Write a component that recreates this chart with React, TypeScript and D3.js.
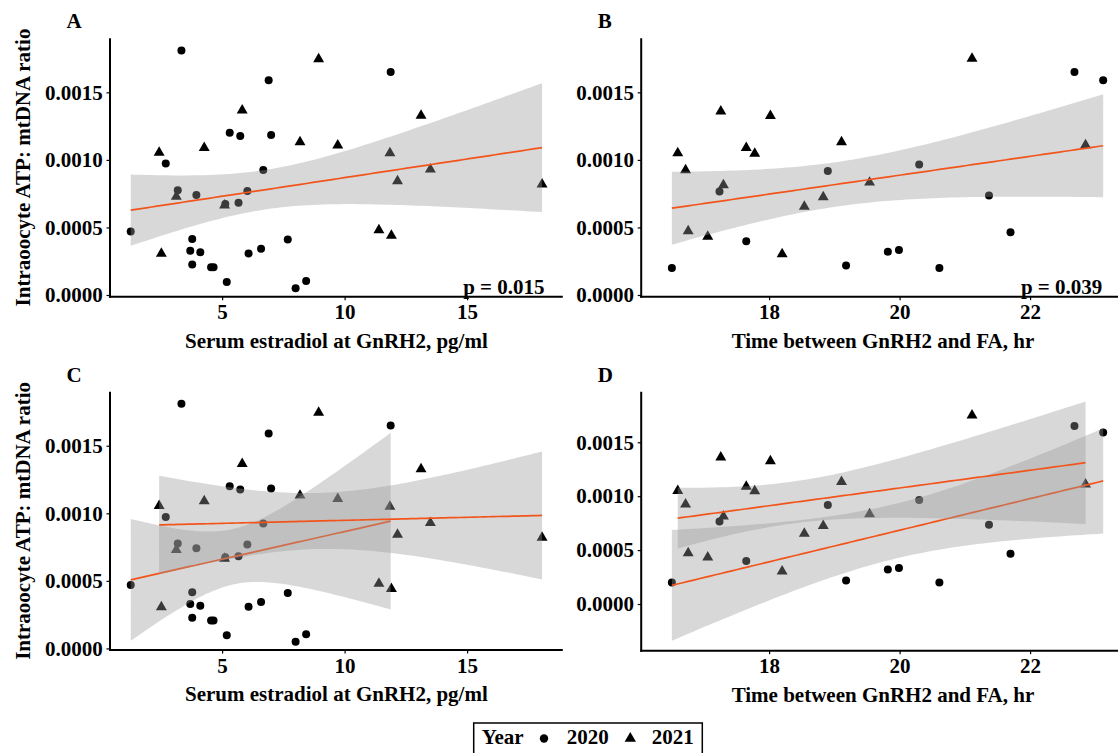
import React, { useEffect, useRef } from "react";
import * as d3 from "d3";

// A & C: serum estradiol at GnRH2 (pg/ml) vs intraoocyte ATP:mtDNA ratio
const estradiol2020 = [1.27, 3.34, 2.7, 3.19, 3.95, 3.78, 3.7, 4.11, 3.78, 4.55, 4.65, 5.19, 5.31, 5.74, 5.13, 5.67, 6.03, 6.08, 6.9, 7.0, 6.68, 6.59, 7.68, 8.0, 8.43, 11.88];
const ratioE2020 = [0.00047, 0.00181, 0.000973, 0.000776, 0.000741, 0.000415, 0.000328, 0.000316, 0.000226, 0.000206, 0.000206, 0.000097, 0.0012, 0.001177, 0.000674, 0.000682, 0.000769, 0.000308, 0.00159, 0.001184, 0.000925, 0.000343, 0.00041, 0.00005, 0.000104, 0.00165];
const estradiol2021 = [2.43, 2.52, 3.13, 4.27, 5.1, 5.82, 8.94, 8.18, 9.72, 11.85, 12.16, 13.12, 13.5, 11.4, 11.91, 18.06];
const ratioE2021 = [0.001055, 0.000306, 0.000729, 0.00109, 0.000664, 0.001366, 0.001746, 0.001132, 0.001107, 0.00105, 0.000843, 0.001328, 0.00093, 0.00048, 0.00044, 0.00082];

// B & D: time between GnRH2 and FA (hr)
const time2020 = [16.51, 17.24, 17.65, 18.9, 19.18, 19.82, 19.99, 20.3, 20.61, 21.37, 21.7, 22.68, 23.12];
const ratioT2020 = [0.000199, 0.000766, 0.000398, 0.000918, 0.000219, 0.000321, 0.000333, 0.000965, 0.000199, 0.000736, 0.000465, 0.00165, 0.00159];
const time2021 = [16.6, 16.72, 16.76, 17.06, 17.26, 17.3, 17.65, 17.78, 18.02, 18.2, 18.54, 18.83, 19.11, 19.54, 21.11, 22.85];
const ratioT2021 = [0.00105, 0.000925, 0.000473, 0.000433, 0.00136, 0.000813, 0.00109, 0.001047, 0.001326, 0.000303, 0.000654, 0.000724, 0.001132, 0.000833, 0.001749, 0.001109];

const ratioTicks = [0, 0.0005, 0.001, 0.0015];
const estradiolTicks = [5, 10, 15];
const timeTicks = [18, 20, 22];
const years = ["2020", "2021"];
const pValues = ["p = 0.015", "p = 0.039"];

const FONT = "'Liberation Serif', 'Times New Roman', serif";
const LINE = "#f2551c";

// t quantile (0.975) by Cornish-Fisher expansion
function tQuant(df) {
  const z = 1.959964;
  const g1 = (z ** 3 + z) / 4;
  const g2 = (5 * z ** 5 + 16 * z ** 3 + 3 * z) / 96;
  const g3 = (3 * z ** 7 + 19 * z ** 5 + 17 * z ** 3 - 15 * z) / 384;
  const g4 = (79 * z ** 9 + 776 * z ** 7 + 1482 * z ** 5 - 1920 * z ** 3 - 945 * z) / 92160;
  return z + g1 / df + g2 / df ** 2 + g3 / df ** 3 + g4 / df ** 4;
}

// lm fit + 95% CI, like geom_smooth(method = "lm")
function lmBand(xs, ys) {
  const n = xs.length;
  const mx = d3.mean(xs), my = d3.mean(ys);
  let sxx = 0, sxy = 0;
  xs.forEach((x, i) => { sxx += (x - mx) ** 2; sxy += (x - mx) * (ys[i] - my); });
  const b = sxy / sxx, a = my - b * mx;
  let sse = 0;
  xs.forEach((x, i) => { sse += (ys[i] - a - b * x) ** 2; });
  const s = Math.sqrt(sse / (n - 2));
  const t = tQuant(n - 2);
  const [x0, x1] = d3.extent(xs);
  return d3.range(80).map((i) => {
    const x = x0 + ((x1 - x0) * i) / 79;
    const fit = a + b * x;
    const se = s * Math.sqrt(1 / n + (x - mx) ** 2 / sxx);
    return { x, fit, lo: fit - t * se, hi: fit + t * se };
  });
}

const panels = [
  { id: "A", x20: estradiol2020, y20: ratioE2020, x21: estradiol2021, y21: ratioE2021, grouped: false,
    left: 110, right: 562.8, top: 38.3, bottom: 296.7, xDomain: [0.424, 18.906], yDomain: [-0.0000126, 0.0019],
    xTicks: estradiolTicks, xTitle: "Serum estradiol at GnRH2, pg/ml", p: pValues[0], pEnd: 544.6, yTitle: true },
  { id: "B", x20: time2020, y20: ratioT2020, x21: time2021, y21: ratioT2021, grouped: false,
    left: 641.2, right: 1124.7, top: 38.3, bottom: 296.7, xDomain: [16.04, 23.45], yDomain: [-0.0000126, 0.0019],
    xTicks: timeTicks, xTitle: "Time between GnRH2 and FA, hr", p: pValues[1], pEnd: 1102.3, yTitle: false },
  { id: "C", x20: estradiol2020, y20: ratioE2020, x21: estradiol2021, y21: ratioE2021, grouped: true,
    left: 110, right: 562.8, top: 391.7, bottom: 650.1, xDomain: [0.424, 18.906], yDomain: [-0.0000126, 0.0019],
    xTicks: estradiolTicks, xTitle: "Serum estradiol at GnRH2, pg/ml", p: null, yTitle: true },
  { id: "D", x20: time2020, y20: ratioT2020, x21: time2021, y21: ratioT2021, grouped: true,
    left: 641.2, right: 1124.7, top: 391.7, bottom: 650.7, xDomain: [16.04, 23.45], yDomain: [-0.000433, 0.001969],
    xTicks: timeTicks, xTitle: "Time between GnRH2 and FA, hr", p: null, yTitle: false },
];

function drawPanel(svg, p) {
  const x = d3.scaleLinear().domain(p.xDomain).range([p.left, p.right]);
  const y = d3.scaleLinear().domain(p.yDomain).range([p.bottom, p.top]);
  const g = svg.append("g");

  //points
  const pts20 = p.x20.map((v, i) => [v, p.y20[i]]);
  const pts21 = p.x21.map((v, i) => [v, p.y21[i]]);
  g.selectAll(".c").data(pts20).join("circle")
    .attr("cx", (d) => x(d[0])).attr("cy", (d) => y(d[1])).attr("r", 4).attr("fill", "#000");
  g.selectAll(".t").data(pts21).join("path")
    .attr("d", d3.symbol(d3.symbolTriangle, 52))
    .attr("transform", (d) => `translate(${x(d[0])},${y(d[1])})`).attr("fill", "#000");

  //smooth
  const groups = p.grouped
    ? [[p.x20, p.y20], [p.x21, p.y21]]
    : [[p.x20.concat(p.x21), p.y20.concat(p.y21)]];
  groups.forEach(([xs, ys]) => {
    const band = lmBand(xs, ys);
    g.append("path").datum(band)
      .attr("d", d3.area().x((d) => x(d.x)).y0((d) => y(d.lo)).y1((d) => y(d.hi)))
      .attr("fill", "#999999").attr("fill-opacity", 0.38);
    g.append("path").datum(band)
      .attr("d", d3.line().x((d) => x(d.x)).y((d) => y(d.fit)))
      .attr("fill", "none").attr("stroke", LINE).attr("stroke-width", 1.7);
  });

  //axes
  const xa = g.append("g").attr("transform", `translate(0,${p.bottom})`)
    .call(d3.axisBottom(x).tickValues(p.xTicks).tickSize(3.5).tickSizeOuter(0).tickPadding(4).tickFormat(d3.format("d")));
  const ya = g.append("g").attr("transform", `translate(${p.left},0)`)
    .call(d3.axisLeft(y).tickValues(ratioTicks).tickSize(3.5).tickSizeOuter(0).tickPadding(3.8).tickFormat(d3.format(".4f")));
  [xa, ya].forEach((a) => {
    a.attr("font-family", FONT).attr("font-size", 21).attr("font-weight", "bold");
    a.select(".domain").attr("stroke", "#000").attr("stroke-width", 2);
    a.selectAll(".tick line").attr("stroke", "#000").attr("stroke-width", 1.2);
    a.selectAll(".tick text").attr("fill", "#000");
  });
  // extend axis lines to meet at the corner
  ya.select(".domain").attr("d", `M0,${p.top}V${p.bottom + 1}`);
  xa.select(".domain").attr("d", `M${p.left - 1},0H${p.right}`);

  //titles
  g.append("text").text(p.xTitle)
    .attr("x", (p.left + p.right) / 2).attr("y", p.bottom + 51)
    .attr("text-anchor", "middle").attr("font-family", FONT).attr("font-size", 21).attr("font-weight", "bold");
  if (p.yTitle) {
    g.append("text").text("Intraoocyte ATP: mtDNA ratio")
      .attr("transform", `translate(29.5,${(p.top + p.bottom) / 2}) rotate(-90)`)
      .attr("text-anchor", "middle").attr("font-family", FONT).attr("font-size", 21).attr("font-weight", "bold");
  }
  g.append("text").text(p.id)
    .attr("x", p.left - 43.5).attr("y", p.top - 10)
    .attr("font-family", FONT).attr("font-size", 21).attr("font-weight", "bold");
  if (p.p) {
    g.append("text").text(p.p)
      .attr("x", p.pEnd).attr("y", p.bottom - 3)
      .attr("text-anchor", "end").attr("font-family", FONT).attr("font-size", 21).attr("font-weight", "bold");
  }
}

export default function App() {
  const ref = useRef(null);

  useEffect(() => {
    const svg = d3.select(ref.current);
    svg.selectAll("*").remove();
    svg.append("rect").attr("width", 1118).attr("height", 753).attr("fill", "#fff");

    panels.forEach((p) => drawPanel(svg, p));

    //legend
    const lg = svg.append("g");
    lg.append("rect").attr("x", 473.7).attr("y", 723).attr("width", 228.6).attr("height", 45)
      .attr("fill", "#fff").attr("stroke", "#000").attr("stroke-width", 1.5);
    const txt = (s, xp) => lg.append("text").text(s).attr("x", xp).attr("y", 743.7)
      .attr("font-family", FONT).attr("font-size", 21).attr("font-weight", "bold");
    txt("Year", 481.7);
    lg.append("circle").attr("cx", 544).attr("cy", 738.5).attr("r", 4.2).attr("fill", "#000");
    txt(years[0], 566.7);
    lg.append("path").attr("d", d3.symbol(d3.symbolTriangle, 56)).attr("transform", "translate(630.3,738.5)").attr("fill", "#000");
    txt(years[1], 651.7);
  }, []);

  return (
    <svg ref={ref} width={1118} height={753}
      style={{ position: "absolute", left: 0, top: 0, display: "block" }} />
  );
}
